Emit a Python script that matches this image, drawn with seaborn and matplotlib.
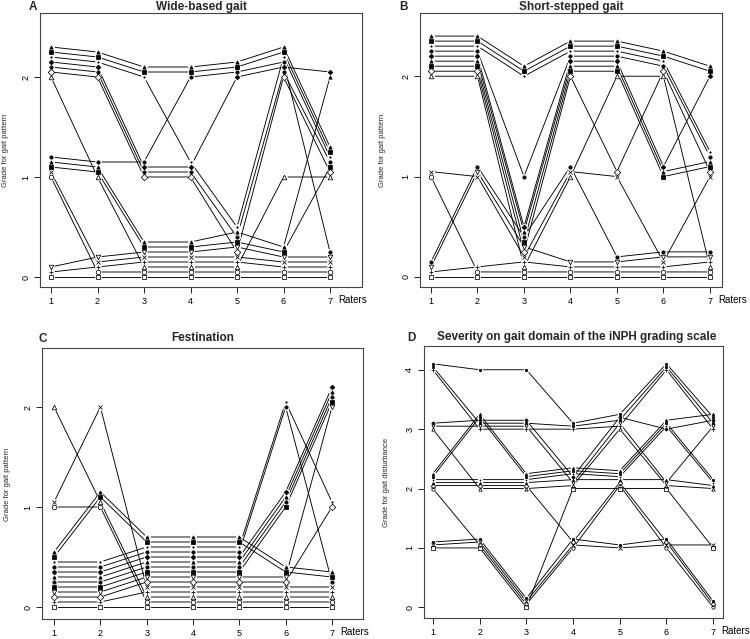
import numpy as np
import pandas as pd
import matplotlib
matplotlib.use('Agg')
import matplotlib.pyplot as plt
import matplotlib.transforms as mtransforms
import seaborn as sns

raters = [1, 2, 3, 4, 5, 6, 7]

# grade given by each rater (columns = raters 1..7), one row per patient
wide_based = [
    [2, 2, 2, 2, 2, 2, 1],
    [2, 2, 2, 2, 2, 2, 1],
    [2, 2, 2, 1, 0, 2, 1],
    [2, 2, 1, 1, 2, 2, 2],
    [2, 2, 1, 1, 0, 2, 1],
    [2, 2, 1, 1, 0, 2, 1],
    [2, 1, 0, 0, 0, 1, 1],
    [1, 1, 1, 2, 2, 2, 0],
    [1, 1, 0, 0, 0, 0, 2],
    [1, 1, 0, 0, 0, 0, 1],
    [1, 0, 0, 0, 0, 0, 0],
    [1, 0, 0, 0, 0, 0, 0],
    [0, 0, 0, 0, 0, 0, 0],
    [0, 0, 0, 0, 0, 0, 0],
    [0, 0, 0, 0, 0, 0, 0],
]

short_stepped = [
    [2, 2, 2, 2, 2, 2, 2],
    [2, 2, 2, 2, 2, 2, 2],
    [2, 2, 2, 2, 2, 2, 1],
    [2, 2, 1, 2, 2, 2, 1],
    [2, 2, 0, 2, 2, 1, 2],
    [2, 2, 0, 2, 2, 1, 1],
    [2, 2, 0, 2, 2, 1, 1],
    [2, 2, 0, 2, 1, 2, 1],
    [2, 2, 0, 1, 2, 2, 0],
    [1, 1, 0, 1, 1, 0, 1],
    [1, 0, 0, 0, 0, 0, 0],
    [0, 1, 0, 1, 0, 0, 0],
    [0, 1, 0, 0, 0, 0, 0],
    [0, 0, 0, 0, 0, 0, 0],
    [0, 0, 0, 0, 0, 0, 0],
]

festination = [
    [2, 1, 0, 0, 0, 0, 0],
    [1, 2, 0, 0, 0, 0, 0],
    [1, 1, 0, 0, 0, 0, 0],
    [0, 1, 0, 0, 0, 0, 0],
    [0, 1, 0, 0, 0, 0, 0],
    [0, 0, 0, 0, 0, 2, 1],
    [0, 0, 0, 0, 0, 2, 0],
    [0, 0, 0, 0, 0, 1, 2],
    [0, 0, 0, 0, 0, 1, 2],
    [0, 0, 0, 0, 0, 1, 2],
    [0, 0, 0, 0, 0, 1, 2],
    [0, 0, 0, 0, 0, 0, 2],
    [0, 0, 0, 0, 0, 0, 1],
    [0, 0, 0, 0, 0, 0, 0],
    [0, 0, 0, 0, 0, 0, 0],
]

severity = [
    [4, 4, 4, 3, 3, 4, 3],
    [4, 3, 3, 3, 3, 4, 3],
    [4, 3, 3, 3, 3, 4, 3],
    [3, 3, 3, 2, 3, 3, 3],
    [3, 3, 3, 2, 3, 2, 3],
    [3, 2, 2, 2, 3, 2, 2],
    [2, 3, 2, 2, 2, 3, 3],
    [2, 3, 2, 2, 2, 3, 2],
    [2, 2, 2, 2, 2, 3, 2],
    [2, 2, 2, 2, 2, 2, 2],
    [2, 2, 2, 1, 2, 1, 0],
    [2, 1, 0, 1, 2, 1, 0],
    [1, 1, 0, 1, 1, 1, 0],
    [1, 1, 0, 1, 1, 1, 1],
    [1, 1, 0, 2, 2, 2, 1],
]

sns.set_theme(style='white')
plt.rcParams['font.family'] = ['Liberation Sans', 'DejaVu Sans']

# plotting symbol of each patient (first seven open, the rest filled)
markers = ['s', 'o', '^', '+', 'x', 'D', 'v', 's', 'o', '^', 'D', 'o', '.', 's', '^']
jitter = 0.05


def long_table(grades):
    g = np.array(grades)
    n = g.shape[0]
    # rank of each patient inside its grade group at rater 1 (last row lowest)
    first = g[:, 0]
    rank1 = np.zeros(n, int)
    for grade in np.unique(first):
        idx = [i for i in range(n - 1, -1, -1) if first[i] == grade]
        for k, i in enumerate(idx):
            rank1[i] = k
    order = sorted(range(n), key=lambda i: (rank1[i], first[i]))
    sym = np.empty(n, int)
    sym[order] = np.arange(n)
    rows = []
    for j, r in enumerate(raters):
        col = g[:, j]
        for grade in np.unique(col):
            idx = sorted([i for i in range(n) if col[i] == grade], key=lambda i: sym[i])
            for k, i in enumerate(idx):
                rows.append(dict(patient=i, sym=sym[i], rater=r, grade=grade,
                                 y=grade + jitter * k))
    return pd.DataFrame(rows).sort_values(['patient', 'rater'])


def draw(ax, grades, ylim, xlim, yticks, ms):
    df = long_table(grades)
    sns.lineplot(data=df, x='rater', y='y', units='patient', estimator=None,
                 color='black', lw=0.65, sort=False, legend=False, ax=ax)
    # white blobs give the gap between line and symbol (R type="b")
    ax.plot(df['rater'], df['y'], ls='none', marker='o', ms=ms + 1.6,
            mfc='white', mec='none', zorder=3)
    for s, sub in df.groupby('sym'):
        m = markers[s % len(markers)]
        filled = s >= 7
        size = ms * (0.6 if m == '.' else 0.72 if filled else 1)
        ax.plot(sub['rater'], sub['y'], ls='none', marker=m, ms=size,
                mfc='black' if filled else 'none', mec='black', mew=0.55,
                zorder=4)
    ax.set_xlim(*xlim)
    ax.set_ylim(*ylim)
    ax.set_xticks(raters)
    ax.set_yticks(yticks)
    ax.set_xlabel('')
    ax.set_ylabel('')
    ax.tick_params(axis='both', direction='out', length=4, width=0.6,
                   labelsize=6.5, colors='black', bottom=True, left=True, pad=3)
    for t in ax.get_yticklabels():
        t.set_rotation(90)
        t.set_va('center')
    for s in ax.spines.values():
        s.set_color('#444444')
        s.set_linewidth(0.8)
    trans = mtransforms.blended_transform_factory(ax.transData, ax.transAxes)
    ax.text(7.17, -0.028, 'Raters', transform=trans, ha='left', va='top',
            fontsize=7, color='black')


W, H = 750, 639
fig = plt.figure(figsize=(7.5, 6.39), dpi=100)


def box(left, right, top, bottom):
    return [left / W, 1 - bottom / H, (right - left) / W, (bottom - top) / H]


axA = fig.add_axes(box(40, 362, 13, 287))
axB = fig.add_axes(box(420, 722, 13, 287))
axC = fig.add_axes(box(42, 363, 348, 619))
axD = fig.add_axes(box(424, 723, 346, 618))

draw(axA, wide_based, (-0.1, 2.64), (0.763, 7.688), [0, 1, 2], 3.3)
draw(axB, short_stepped, (-0.1, 2.63), (0.763, 7.26), [0, 1, 2], 3.3)
draw(axC, festination, (-0.12, 2.59), (0.74, 7.67), [0, 1, 2], 3.3)
draw(axD, severity, (-0.18, 4.4), (0.81, 7.21), [0, 1, 2, 3, 4], 2.4)


def fig_text(x, y, s, **kw):
    fig.text(x / W, 1 - y / H, s, **kw)


bold = dict(fontsize=8.5, fontweight='bold', ha='center', va='center')
fig_text(201, 7, 'Wide-based gait', **bold)
fig_text(33, 7, 'A', **bold)
fig_text(571, 7, 'Short-stepped gait', **bold)
fig_text(404, 7, 'B', **bold)
fig_text(203, 338, 'Festination', **bold)
fig_text(43, 339, 'C', **bold)
fig_text(577, 337, 'Severity on gait domain of the iNPH grading scale', **bold)
fig_text(411, 338, 'D', **bold)

lab = dict(fontsize=5.5, rotation=90, ha='center', va='center')
fig_text(6, 150, 'Grade for gait pattern', **lab)
fig_text(382, 150, 'Grade for gait pattern', **lab)
fig_text(8, 484, 'Grade for gait pattern', **lab)
fig_text(386, 482, 'Grade for gait disturbance', **lab)

fig.savefig('out.png', dpi=100, facecolor='white')
